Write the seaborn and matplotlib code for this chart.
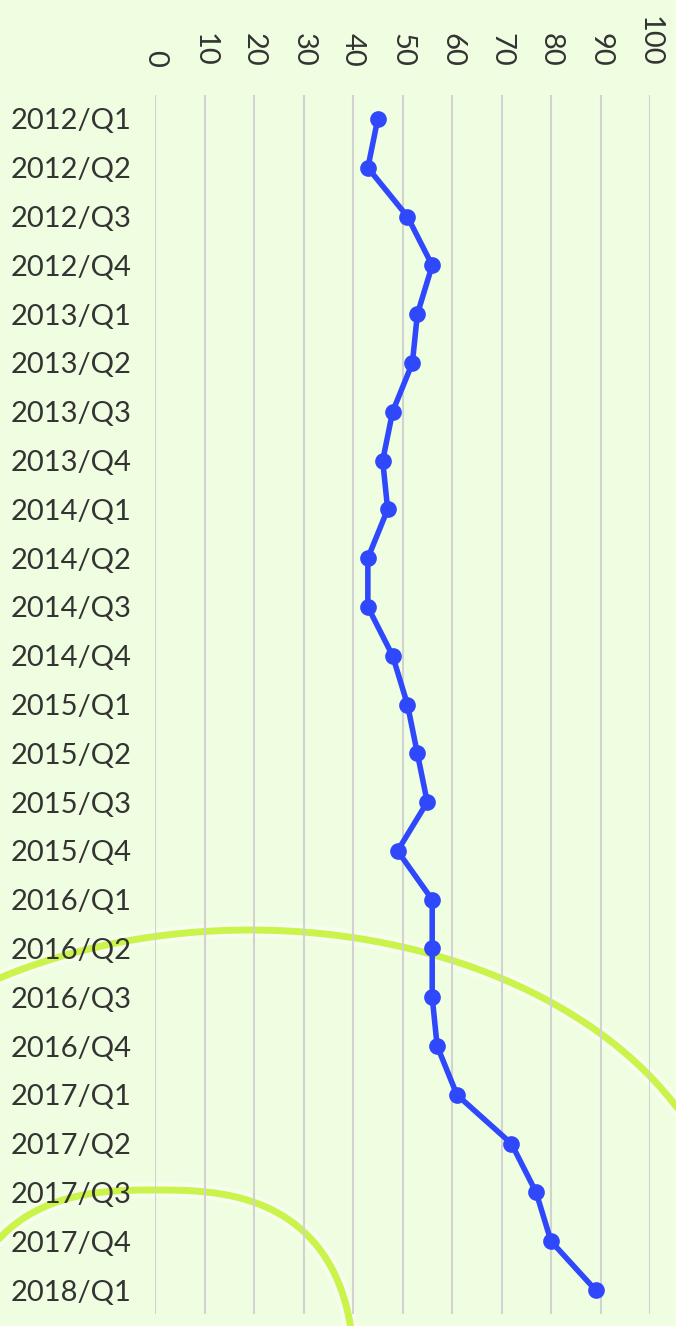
"""
Quarterly index line, drawn horizontally: quarters down the side, value on top
"""

import numpy as np
import pandas as pd
import seaborn as sns
import matplotlib.pyplot as plt
from matplotlib.lines import Line2D

quarters = ['2012/Q1', '2012/Q2', '2012/Q3', '2012/Q4',
            '2013/Q1', '2013/Q2', '2013/Q3', '2013/Q4',
            '2014/Q1', '2014/Q2', '2014/Q3', '2014/Q4',
            '2015/Q1', '2015/Q2', '2015/Q3', '2015/Q4',
            '2016/Q1', '2016/Q2', '2016/Q3', '2016/Q4',
            '2017/Q1', '2017/Q2', '2017/Q3', '2017/Q4',
            '2018/Q1']
values = [45, 43, 51, 56,
          53, 52, 48, 46,
          47, 43, 43, 48,
          51, 53, 55, 49,
          56, 56, 56, 57,
          61, 72, 77, 80,
          89]
x_ticks = list(range(0, 101, 10))

BG = '#effde0'
LINE = '#2f48fb'
TEXT = '#333333'
W, H = 676, 1326

sns.set_theme(style='white')
plt.rcParams['font.family'] = ['Lato', 'DejaVu Sans']

fig = plt.figure(figsize=(W / 100, H / 100), dpi=100, facecolor=BG)
ax = fig.add_axes([155 / W, 1 - 1314.4 / H, 495 / W, (1314.4 - 94.6) / H])
ax.set_facecolor('none')


def deco_curve(cx, cy, a, b, n, lw):
    # decorative ring in the background, pixel coords -> figure fraction
    t = np.linspace(0, 2 * np.pi, 800)
    c, s = np.cos(t), np.sin(t)
    xs = cx + a * np.sign(c) * np.abs(c) ** (2 / n)
    ys = cy + b * np.sign(s) * np.abs(s) ** (2 / n)
    fig.add_artist(Line2D(xs / W, 1 - ys / H, transform=fig.transFigure,
                          color='white', lw=lw * 2.2, alpha=0.45, zorder=-2))
    fig.add_artist(Line2D(xs / W, 1 - ys / H, transform=fig.transFigure,
                          color='#c6f23a', lw=lw, alpha=0.9, zorder=-1))


deco_curve(250, 1257, 480, 327, 2, 5)
deco_curve(155, 1400, 200, 210, 2.7, 5)

df = pd.DataFrame({'quarter': quarters, 'value': values})
sns.pointplot(data=df, x='value', y='quarter', order=quarters, errorbar=None,
              color=LINE, markersize=9, linewidth=4, ax=ax)

ax.set_xlim(0, 100)
ax.set_ylim(len(quarters) - 0.5, -0.5)
ax.set_xticks(x_ticks)
ax.set_xticklabels([str(v) for v in x_ticks])
ax.xaxis.tick_top()
ax.tick_params(axis='x', which='both', length=0, pad=20, labelsize=21,
               labelcolor=TEXT, labeltop=True, labelbottom=False,
               labelrotation=-90)
ax.tick_params(axis='y', length=0, pad=17, labelsize=21, labelcolor=TEXT)
for lbl in ax.get_xticklabels():
    lbl.set_va('bottom')
    lbl.set_ha('center')

ax.grid(axis='x', color='#d2d2d2', linewidth=1.5)
ax.grid(axis='y', visible=False)
ax.set_axisbelow(True)
for side in ax.spines.values():
    side.set_visible(False)
ax.set_xlabel('')
ax.set_ylabel('')

fig.savefig('out.png', dpi=100, facecolor=BG)
